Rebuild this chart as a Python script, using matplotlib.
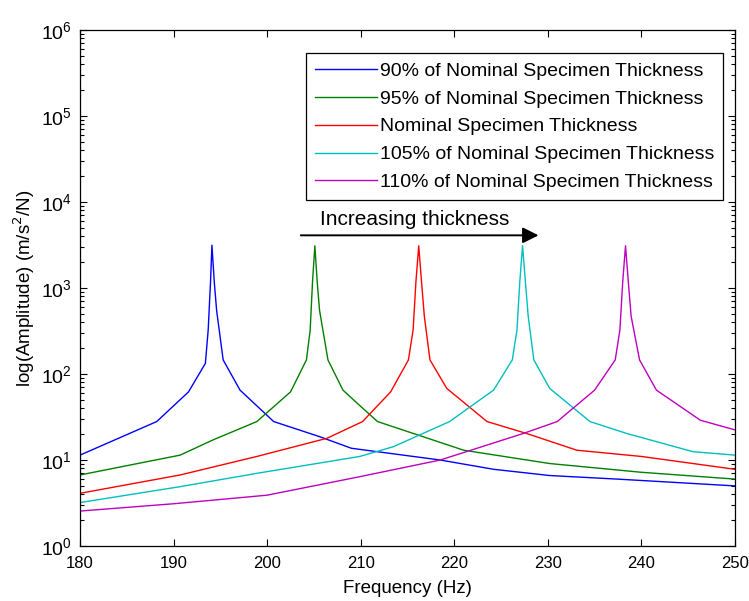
import numpy as np
import matplotlib
matplotlib.use("Agg")
import matplotlib.pyplot as plt
from matplotlib.ticker import FixedLocator, LogLocator, NullFormatter

plt.rcParams['font.family'] = ['Liberation Sans', 'DejaVu Sans']

# values
f_90 = [180, 188.2, 191.6, 193.4, 193.7, 193.95, 194.1, 194.35, 194.6, 195.3, 197.1,
        200.7, 205.6, 209, 218.5, 224.2, 230.2, 237.4, 250]
a_90 = [11.4, 28, 62, 133, 325, 1180, 3150, 1180, 550, 146, 65,
        28, 18.7, 13.7, 10, 7.8, 6.6, 6.0, 5.0]

f_95 = [180, 190.7, 194.2, 198.9, 202.5, 204.2, 204.6, 204.85, 205.1, 205.35, 205.6,
        206.5, 208.1, 210, 211.8, 221, 230.2, 240, 250]
a_95 = [6.7, 11.4, 17.1, 28, 62, 146, 325, 1180, 3100, 1180, 550,
        146, 65, 42, 28, 13, 9.1, 7.2, 6.0]

f_100 = [180, 190.7, 198.9, 206.4, 210.2, 213.2, 215.1, 215.6, 215.9, 216.2, 216.5,
         216.8, 217.4, 219.2, 223.5, 227.7, 233.1, 240, 250]
a_100 = [4.1, 6.7, 11, 17.9, 28, 62, 146, 325, 1180, 3100, 1180,
         470, 146, 68, 28, 20.4, 13, 11, 7.8]

f_105 = [180, 190.7, 198.9, 209.9, 213.5, 219.5, 224.2, 226.2, 226.7, 227.0, 227.3,
         227.6, 227.9, 228.5, 230.2, 234.5, 238.4, 245.5, 250]
a_105 = [3.2, 4.9, 7, 11, 14.3, 28, 65, 146, 325, 1180, 3100,
         1180, 470, 146, 68, 28, 20.4, 12.5, 11.4]

f_110 = [180, 190, 200, 209.9, 218.5, 227.4, 231, 235, 237.2, 237.7, 238.0, 238.3,
         238.6, 238.9, 239.8, 241.6, 246.3, 250]
a_110 = [2.55, 3.1, 3.9, 6.4, 10, 20.4, 28, 65, 146, 325, 1180, 3100,
         1180, 470, 146, 65, 29, 22.4]

labels = ["90% of Nominal Specimen Thickness",
          "95% of Nominal Specimen Thickness",
          "Nominal Specimen Thickness",
          "105% of Nominal Specimen Thickness",
          "110% of Nominal Specimen Thickness"]
colors = ["#0000ff", "#008000", "#ff0000", "#00bfbf", "#bf00bf"]

x_ticks = [180, 190, 200, 210, 220, 230, 240, 250]
y_ticks = [1, 10, 100, 1e3, 1e4, 1e5, 1e6]


def main():
    fig = plt.figure(figsize=(7.49, 6.01), dpi=100)
    ax = fig.add_axes([0.1068, 0.0915, 0.8745, 0.8585])

    series = [(f_90, a_90), (f_95, a_95), (f_100, a_100), (f_105, a_105), (f_110, a_110)]
    for (f, a), lab, c in zip(series, labels, colors):
        ax.plot(f, a, color=c, lw=1.0, label=lab)

    ax.set_yscale("log")
    ax.set_xlim(180, 250)
    ax.set_ylim(1, 1e6)
    ax.set_xticks(x_ticks)
    ax.yaxis.set_major_locator(FixedLocator(y_ticks))
    ax.yaxis.set_minor_locator(LogLocator(base=10, subs=np.arange(2, 10), numticks=20))
    ax.yaxis.set_minor_formatter(NullFormatter())
    ax.tick_params(which="both", direction="in", top=True, right=True)
    ax.tick_params(axis="x", labelsize=12, pad=7)
    ax.tick_params(axis="y", labelsize=14, pad=6)
    ax.tick_params(which="major", length=5, width=0.8)
    ax.tick_params(which="minor", length=3, width=0.8)
    for s in ax.spines.values():
        s.set_linewidth(0.9)

    ax.set_xlabel("Frequency (Hz)", fontsize=13.5, labelpad=7)
    ax.set_ylabel("log(Amplitude) (m/s$^2$/N)", fontsize=13.5, labelpad=3)

    ax.annotate("", xy=(229.3, 4100), xytext=(203.3, 4100),
                arrowprops=dict(arrowstyle="-|>", color="k", lw=1.4, mutation_scale=24))
    ax.text(215.8, 4800, "Increasing thickness", fontsize=15, ha="center", va="bottom")

    leg = ax.legend(loc="upper right", bbox_to_anchor=(0.9817, 0.955), borderaxespad=0,
                    fontsize=14, handlelength=3.2, labelspacing=0.53, fancybox=False,
                    edgecolor="k", framealpha=1, borderpad=0.45, handletextpad=0.15)
    leg.get_frame().set_linewidth(0.9)

    fig.savefig("out.png", dpi=100)
    plt.close(fig)


if __name__ == "__main__":
    main()
